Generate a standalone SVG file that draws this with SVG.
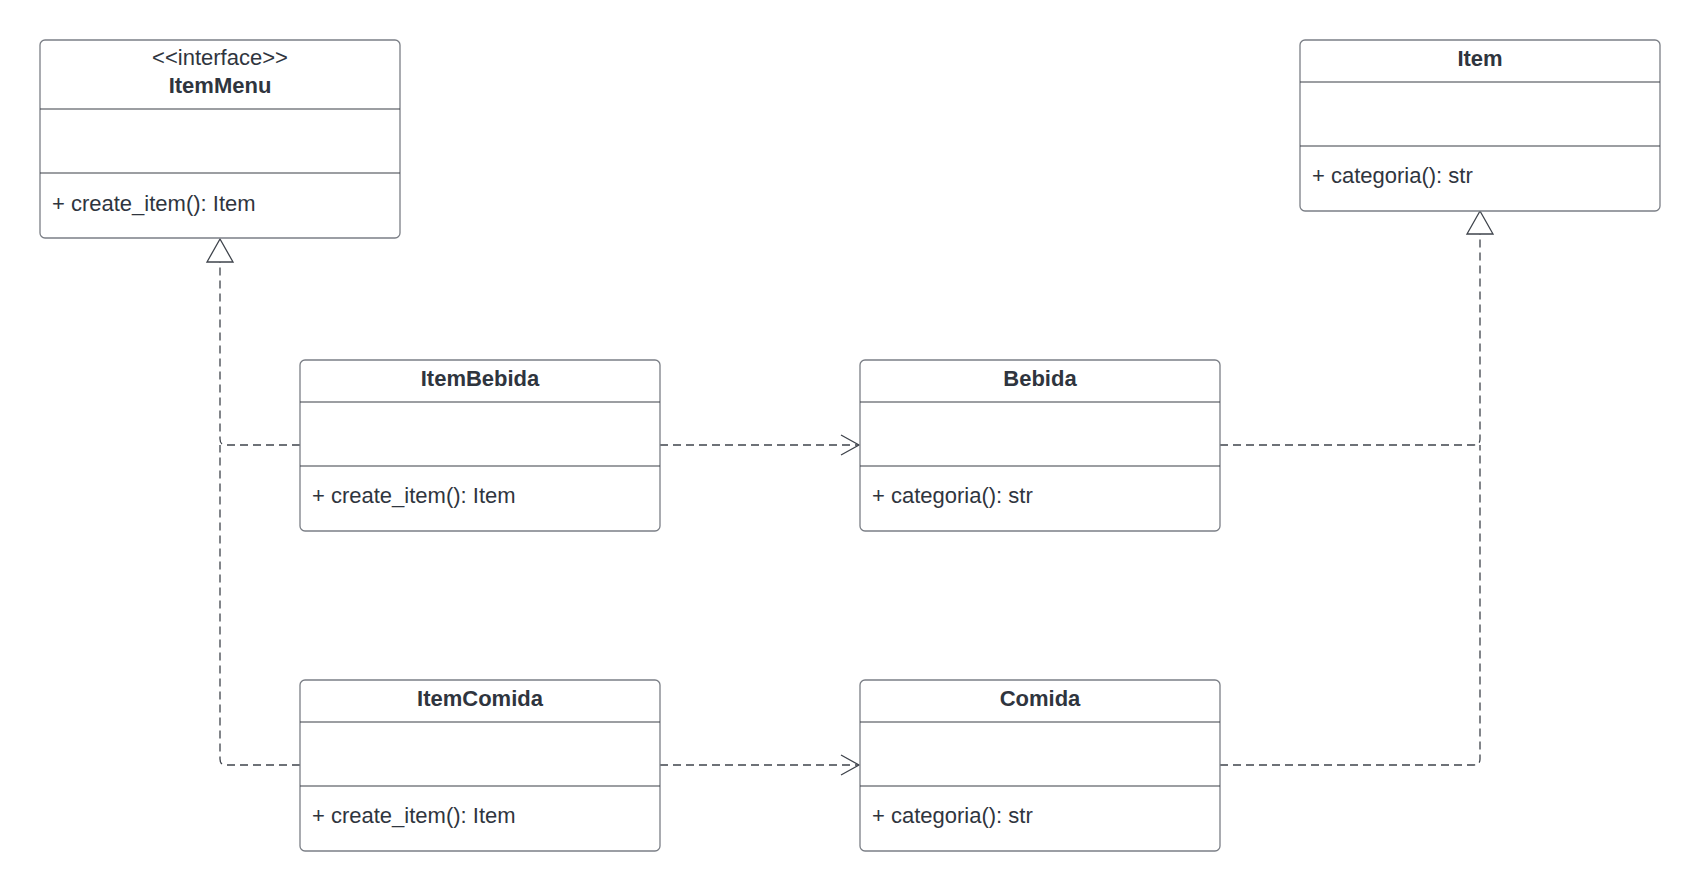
<svg xmlns="http://www.w3.org/2000/svg" width="1700" height="891" viewBox="0 0 1700 891">
<style>
.box{fill:#ffffff;stroke:#7b7f86;stroke-width:1.3}
.div{stroke:#3a3f47;stroke-width:1.2}
.t{font-family:"Liberation Sans",Arial,sans-serif;font-size:22px;fill:#2f353e}
.b{font-weight:bold;text-anchor:middle}
.c{text-anchor:middle}
.con{fill:none;stroke:#3f444c;stroke-width:1.3;stroke-dasharray:8 5}
.head{fill:none;stroke:#3f444c;stroke-width:1.3}
.tri{fill:#ffffff;stroke:#3f444c;stroke-width:1.3}
</style>
<rect width="1700" height="891" fill="#ffffff"/>
<g id="connectors">
<path class="con" d="M300 445 H226 Q220 445 220 439 V262"/>
<path class="con" d="M300 765 H226 Q220 765 220 759 V445"/>
<path class="con" d="M660 445 H858"/>
<path class="head" d="M841 435 L859 445 L841 455"/>
<path class="con" d="M660 765 H858"/>
<path class="head" d="M841 755 L859 765 L841 775"/>
<path class="con" d="M1220 445 H1474 Q1480 445 1480 439 V234"/>
<path class="con" d="M1220 765 H1474 Q1480 765 1480 759 V445"/>
<polygon class="tri" points="220,239 207,262 233,262"/>
<polygon class="tri" points="1480,211 1467,234 1493,234"/>
</g>
<g id="ItemMenu">
<rect class="box" x="40" y="40" width="360" height="198" rx="5"/>
<line class="div" x1="40" y1="109" x2="400" y2="109"/>
<line class="div" x1="40" y1="173" x2="400" y2="173"/>
<text class="t c" x="220" y="65">&lt;&lt;interface&gt;&gt;</text>
<text class="t b" x="220" y="93">ItemMenu</text>
<text class="t" x="52" y="211">+ create_item(): Item</text>
</g>
<g id="Item">
<rect class="box" x="1300" y="40" width="360" height="171" rx="5"/>
<line class="div" x1="1300" y1="82" x2="1660" y2="82"/>
<line class="div" x1="1300" y1="146" x2="1660" y2="146"/>
<text class="t b" x="1480" y="66">Item</text>
<text class="t" x="1312" y="183">+ categoria(): str</text>
</g>
<g id="ItemBebida">
<rect class="box" x="300" y="360" width="360" height="171" rx="5"/>
<line class="div" x1="300" y1="402" x2="660" y2="402"/>
<line class="div" x1="300" y1="466" x2="660" y2="466"/>
<text class="t b" x="480" y="386">ItemBebida</text>
<text class="t" x="312" y="503">+ create_item(): Item</text>
</g>
<g id="Bebida">
<rect class="box" x="860" y="360" width="360" height="171" rx="5"/>
<line class="div" x1="860" y1="402" x2="1220" y2="402"/>
<line class="div" x1="860" y1="466" x2="1220" y2="466"/>
<text class="t b" x="1040" y="386">Bebida</text>
<text class="t" x="872" y="503">+ categoria(): str</text>
</g>
<g id="ItemComida">
<rect class="box" x="300" y="680" width="360" height="171" rx="5"/>
<line class="div" x1="300" y1="722" x2="660" y2="722"/>
<line class="div" x1="300" y1="786" x2="660" y2="786"/>
<text class="t b" x="480" y="706">ItemComida</text>
<text class="t" x="312" y="823">+ create_item(): Item</text>
</g>
<g id="Comida">
<rect class="box" x="860" y="680" width="360" height="171" rx="5"/>
<line class="div" x1="860" y1="722" x2="1220" y2="722"/>
<line class="div" x1="860" y1="786" x2="1220" y2="786"/>
<text class="t b" x="1040" y="706">Comida</text>
<text class="t" x="872" y="823">+ categoria(): str</text>
</g>
</svg>
